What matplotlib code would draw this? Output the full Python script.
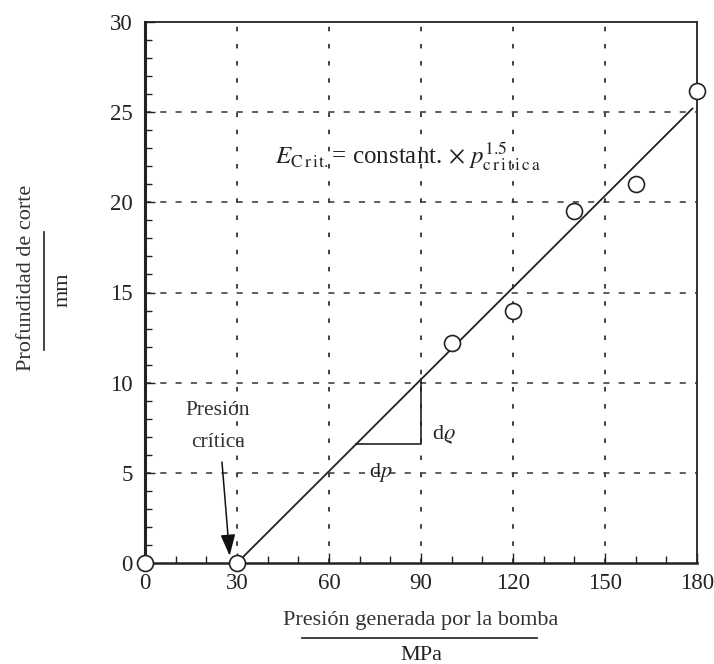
import matplotlib
matplotlib.use("Agg")
import matplotlib.pyplot as plt
from matplotlib.lines import Line2D
import numpy as np

plt.rcParams['font.family'] = ['Liberation Serif', 'DejaVu Serif']
plt.rcParams['mathtext.fontset'] = 'stix'

# data
pressure = [0, 30, 100, 120, 140, 160, 180]
depth = [0, 0, 12.2, 14.0, 19.5, 21.0, 26.2]
fit_x = [30, 178.5]
fit_y = [0, 25.2]
x_ticks = [0, 30, 60, 90, 120, 150, 180]
y_ticks = [0, 5, 10, 15, 20, 25, 30]

fig = plt.figure(figsize=(7.14, 6.64), dpi=100)
ax = fig.add_axes([145/714, 1 - 563/664, (697-145)/714, (563-22)/664])
ax.set_xlim(0, 180)
ax.set_ylim(0, 30)

# grid
for xv in x_ticks[1:-1]:
    ax.axvline(xv, color='#333333', lw=1.3, ls=(0, (2.5, 7)), zorder=1)
for yv in y_ticks[1:-1]:
    ax.axhline(yv, color='#333333', lw=1.1, ls=(0, (4, 6)), zorder=1)

# fit line
ax.plot(fit_x, fit_y, color='#222222', lw=1.3, zorder=3)
slope = (fit_y[1] - fit_y[0]) / (fit_x[1] - fit_x[0])

# slope triangle
tri_right = 90
tri_low = 6.6
tri_left = fit_x[0] + tri_low / slope
tri_top = fit_y[0] + slope * (tri_right - fit_x[0])
ax.plot([tri_left, tri_right, tri_right], [tri_low, tri_low, tri_top], color='#222222', lw=1.2, zorder=3)
ax.text(tri_right + 3.5, 7.1, r"d$\varrho$", fontsize=16, ha='left', va='center', color='#222222')
ax.text(77, 5.0, r"d$p$", fontsize=16, ha='center', va='center', color='#222222')

# points
ax.plot(pressure, depth, 'o', mfc='white', mec='#222222', ms=11.5, mew=1.2, clip_on=False, zorder=5)

# annotation
ax.text(23.8, 8.45, "Presión", fontsize=15.5, ha='center', va='center', color='#333333')
ax.text(23.8, 6.7, "crítica", fontsize=15.5, ha='center', va='center', color='#333333')
ax.annotate("", xy=(27.6, 0.4), xytext=(25.1, 5.6),
            arrowprops=dict(arrowstyle='-|>,head_length=1.3,head_width=0.45', color='#111111', lw=1.1,
                            shrinkA=0, shrinkB=0))

# equation
ax.text(42.5, 22.5,
        r"$E_{\mathrm{C\,r\,i\,t.}}$= constant. $\times$ $p^{1.5}_{\mathrm{c\,r\,i\,t\,i\,c\,a}}$",
        fontsize=18, ha='left', va='center', color='#222222')

# ticks
ax.set_xticks(x_ticks)
ax.set_yticks(y_ticks)
ax.set_xticks(np.arange(0, 181, 10), minor=True)
ax.set_yticks(np.arange(0, 31, 1), minor=True)
ax.tick_params(which='major', direction='in', length=7, width=1.0, labelsize=16.5, colors='#222222', pad=7)
ax.tick_params(which='minor', direction='in', length=5, width=1.0, colors='#222222')
ax.tick_params(axis='y', which='major', pad=9)
for s in ax.spines.values():
    s.set_linewidth(1.3)
    s.set_color('#222222')
ax.spines['left'].set_linewidth(2.2)
ax.spines['bottom'].set_linewidth(1.8)

# axis labels as fractions
fig.text(421/714, 1 - 620/664, "Presión generada por la bomba", fontsize=16, ha='center', va='center', color='#333333')
fig.add_artist(Line2D([302/714, 537/714], [1 - 638/664, 1 - 638/664], color='#333333', lw=1.3))
fig.text(421/714, 1 - 655/664, "MPa", fontsize=16, ha='center', va='center', color='#222222')

fig.text(27/714, 1 - 278/664, "Profundidad de corte", fontsize=16, rotation=90, ha='center', va='center', color='#333333')
fig.add_artist(Line2D([44/714, 44/714], [1 - 232/664, 1 - 350/664], color='#333333', lw=1.3))
fig.text(63/714, 1 - 290/664, "mm", fontsize=16, rotation=90, ha='center', va='center', color='#222222')

fig.savefig("out.png", dpi=100)
